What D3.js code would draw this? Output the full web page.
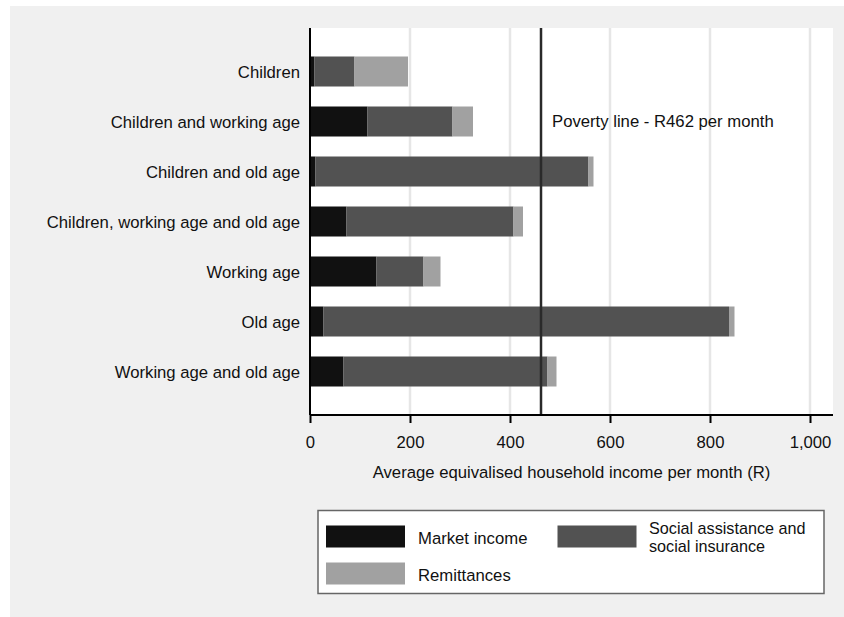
<!DOCTYPE html>
<html>
<head>
<meta charset="utf-8">
<script src="https://cdn.jsdelivr.net/npm/d3@7"></script>
<style>
  body { margin: 0; background: #fff; }
  text { font-family: "Liberation Sans", Arial, sans-serif; fill: #111; }
</style>
</head>
<body>
<svg id="chart" width="844" height="617"></svg>
<script>
// household types, top to bottom
const groups = [
  "Children",
  "Children and working age",
  "Children and old age",
  "Children, working age and old age",
  "Working age",
  "Old age",
  "Working age and old age",
];
// income components (R per month)
const marketIncome = [9, 115, 11, 73, 133, 27, 67];
const socialAssistance = [80, 170, 546, 334, 94, 811, 408];
const remittances = [107, 41, 10, 19, 34, 11, 18];

const seriesNames = ["Market income", "Social assistance and social insurance", "Remittances"];
const seriesColors = ["#111111", "#525252", "#a1a1a1"];
const xTicks = [0, 200, 400, 600, 800, 1000];
const povertyLine = 462;

const svg = d3.select("svg#chart");

// grey background panel
svg.append("rect")
  .attr("x", 10).attr("y", 6)
  .attr("width", 834).attr("height", 611)
  .attr("fill", "#f0f0f0");

const plotL = 310, plotR = 833, plotT = 28, plotB = 415;

svg.append("rect")
  .attr("x", plotL).attr("y", plotT)
  .attr("width", plotR - plotL).attr("height", plotB - plotT)
  .attr("fill", "#fff");

const x = d3.scaleLinear().domain([0, 1000]).range([plotL, plotL + 500]);
const y = d3.scaleBand().domain(groups).range([plotT, plotB])
  .paddingInner(0.4).paddingOuter(0.57);

// gridlines
svg.selectAll("line.grid")
  .data(xTicks.slice(1))
  .enter()
  .append("line")
  .attr("class", "grid")
  .attr("x1", (d) => x(d)).attr("x2", (d) => x(d))
  .attr("y1", plotT).attr("y2", plotB)
  .attr("stroke", "#e6e6e6")
  .attr("stroke-width", 2.5);

// stacked bars
const table = groups.map((g, i) => ({
  group: g,
  s0: marketIncome[i],
  s1: socialAssistance[i],
  s2: remittances[i],
}));
const stacked = d3.stack().keys(["s0", "s1", "s2"])(table);

svg.selectAll("g.series")
  .data(stacked)
  .enter()
  .append("g")
  .attr("class", "series")
  .attr("fill", (d, i) => seriesColors[i])
  .selectAll("rect")
  .data((d) => d)
  .enter()
  .append("rect")
  .attr("x", (d) => x(d[0]))
  .attr("width", (d) => x(d[1]) - x(d[0]))
  .attr("y", (d) => y(d.data.group))
  .attr("height", y.bandwidth());

// poverty line
svg.append("line")
  .attr("x1", x(povertyLine)).attr("x2", x(povertyLine))
  .attr("y1", plotT).attr("y2", plotB)
  .attr("stroke", "#2a2a2a")
  .attr("stroke-width", 2.5);

svg.append("text")
  .attr("x", 552)
  .attr("y", y(groups[1]) + y.bandwidth() / 2 + 5)
  .attr("font-size", "16.7px")
  .text("Poverty line - R462 per month");

// y axis
svg.append("line")
  .attr("x1", plotL).attr("x2", plotL)
  .attr("y1", plotT).attr("y2", plotB)
  .attr("stroke", "#000").attr("stroke-width", 2);

svg.selectAll("text.ylab")
  .data(groups)
  .enter()
  .append("text")
  .attr("class", "ylab")
  .attr("x", 300)
  .attr("y", (d) => y(d) + y.bandwidth() / 2 + 6.5)
  .attr("text-anchor", "end")
  .attr("font-size", "16.7px")
  .text((d) => d);

// x axis
const xAxis = svg.append("g")
  .attr("transform", `translate(0,${plotB})`)
  .call(d3.axisBottom(x).tickValues(xTicks).tickSize(8).tickPadding(13)
    .tickFormat(d3.format(",")));
xAxis.select(".domain").attr("stroke", "#000").attr("stroke-width", 2)
  .attr("d", `M${plotL},0H${plotR}`);
xAxis.selectAll(".tick line").attr("stroke", "#000").attr("stroke-width", 2);
xAxis.selectAll(".tick text")
  .attr("font-family", "Liberation Sans, Arial, sans-serif")
  .attr("font-size", "16.7px")
  .attr("fill", "#111");

svg.append("text")
  .attr("x", (plotL + plotR) / 2)
  .attr("y", 478)
  .attr("text-anchor", "middle")
  .attr("font-size", "16.7px")
  .text("Average equivalised household income per month (R)");

// legend
const legend = svg.append("g");
legend.append("rect")
  .attr("x", 318).attr("y", 510.5)
  .attr("width", 506).attr("height", 83)
  .attr("fill", "#fff")
  .attr("stroke", "#666")
  .attr("stroke-width", 1.5);

const legendItems = [
  { sx: 326, sy: 525.5, tx: 418, lines: [seriesNames[0]], ty: 544, fs: 16.7 },
  { sx: 557.5, sy: 525.5, tx: 649, lines: ["Social assistance and", "social insurance"], ty: 533.5, fs: 16.2 },
  { sx: 326, sy: 562.5, tx: 418, lines: [seriesNames[2]], ty: 580.5, fs: 16.7 },
];
legendItems.forEach((item, i) => {
  legend.append("rect")
    .attr("x", item.sx).attr("y", item.sy)
    .attr("width", 79).attr("height", 22)
    .attr("fill", seriesColors[i]);
  item.lines.forEach((line, j) => {
    legend.append("text")
      .attr("x", item.tx)
      .attr("y", item.ty + j * 18.8)
      .attr("font-size", item.fs + "px")
      .text(line);
  });
});
</script>
</body>
</html>
